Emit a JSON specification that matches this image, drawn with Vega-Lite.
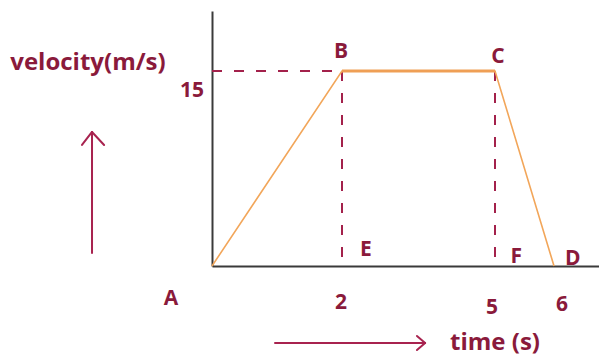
{
  "$schema": "https://vega.github.io/schema/vega-lite/v6.json",
  "width": 387,
  "height": 255,
  "autosize": "none",
  "padding": {"left": 212, "top": 11, "right": 0, "bottom": 94},
  "background": "white",
  "config": {"view": {"stroke": null}},
  "datasets": {
    "path": [
      {"point": "A", "t": 0, "v": 0},
      {"point": "B", "t": 2, "v": 15},
      {"point": "C", "t": 5, "v": 15},
      {"point": "D", "t": 6, "v": 0}
    ],
    "guides": [
      {"id": "hB", "x": 0, "y": 15, "x2": 2, "y2": 15},
      {"id": "vB", "x": 2, "y": 15, "x2": 2, "y2": 0},
      {"id": "vC", "x": 5, "y": 15, "x2": 5, "y2": 0}
    ],
    "arrows": [
      {"id": "up", "x": -1.846, "y": 1.0, "x2": -1.846, "y2": 10.31},
      {"id": "upL", "x": -1.846, "y": 10.31, "x2": -2.0, "y2": 9.31},
      {"id": "upR", "x": -1.846, "y": 10.31, "x2": -1.66, "y2": 9.31},
      {"id": "right", "x": 0.969, "y": -5.92, "x2": 3.63, "y2": -5.92},
      {"id": "rightU", "x": 3.63, "y": -5.92, "x2": 3.47, "y2": -5.385},
      {"id": "rightD", "x": 3.63, "y": -5.92, "x2": 3.47, "y2": -6.46}
    ],
    "titles": [
      {"label": "velocity(m/s)", "x": -1.908, "y": 15.08},
      {"label": "time (s)", "x": 5.0, "y": -6.46}
    ],
    "labels": [
      {"label": "15", "x": -0.308, "y": 13.0},
      {"label": "B", "x": 1.985, "y": 16.0},
      {"label": "C", "x": 5.05, "y": 15.62},
      {"label": "E", "x": 2.47, "y": 0.77},
      {"label": "F", "x": 5.36, "y": 0.23},
      {"label": "D", "x": 6.33, "y": 0.08},
      {"label": "A", "x": -0.63, "y": -3.0},
      {"label": "2", "x": 1.985, "y": -3.31},
      {"label": "5", "x": 4.94, "y": -3.69},
      {"label": "6", "x": 6.14, "y": -3.46}
    ]
  },
  "layer": [
    {
      "data": {"name": "guides"},
      "mark": {"type": "rule", "color": "#a3214b", "strokeWidth": 2, "strokeDash": [10, 12]},
      "encoding": {
        "x": {"field": "x", "type": "quantitative", "scale": {"type": "linear", "domain": [0, 2, 5, 6, 6.79], "range": [0, 130, 283, 342, 387], "nice": false, "zero": false}, "axis": {"ticks": false, "labels": false, "grid": false, "title": null, "domainColor": "#3a3a3a", "domainWidth": 2}},
        "y": {"field": "y", "type": "quantitative", "scale": {"domain": [0, 19.615], "nice": false, "zero": false}, "axis": {"ticks": false, "labels": false, "grid": false, "title": null, "domainColor": "#3a3a3a", "domainWidth": 2}},
        "x2": {"field": "x2"},
        "y2": {"field": "y2"}
      }
    },
    {
      "data": {"name": "path"},
      "mark": {"type": "line", "color": "#f2a65a", "strokeWidth": 1.6},
      "encoding": {
        "x": {"field": "t", "type": "quantitative"},
        "y": {"field": "v", "type": "quantitative"},
        "order": {"field": "t"}
      }
    },
    {
      "data": {"name": "path"},
      "transform": [{"filter": "datum.t >= 2 && datum.t <= 5"}],
      "mark": {"type": "line", "color": "#ef9f55", "strokeWidth": 3},
      "encoding": {
        "x": {"field": "t", "type": "quantitative"},
        "y": {"field": "v", "type": "quantitative"},
        "order": {"field": "t"}
      }
    },
    {
      "data": {"name": "arrows"},
      "mark": {"type": "rule", "color": "#a8234f", "strokeWidth": 2, "strokeCap": "round"},
      "encoding": {
        "x": {"field": "x", "type": "quantitative"},
        "y": {"field": "y", "type": "quantitative"},
        "x2": {"field": "x2"},
        "y2": {"field": "y2"}
      }
    },
    {
      "data": {"name": "titles"},
      "mark": {"type": "text", "font": "Open Sans", "fontWeight": "bold", "fontSize": 24, "color": "#8a1a3b", "align": "center", "baseline": "alphabetic"},
      "encoding": {
        "x": {"field": "x", "type": "quantitative"},
        "y": {"field": "y", "type": "quantitative"},
        "text": {"field": "label"}
      }
    },
    {
      "data": {"name": "labels"},
      "mark": {"type": "text", "font": "Open Sans", "fontWeight": "bold", "fontSize": 21, "color": "#8a1a3b", "align": "center", "baseline": "alphabetic"},
      "encoding": {
        "x": {"field": "x", "type": "quantitative"},
        "y": {"field": "y", "type": "quantitative"},
        "text": {"field": "label"}
      }
    }
  ]
}
